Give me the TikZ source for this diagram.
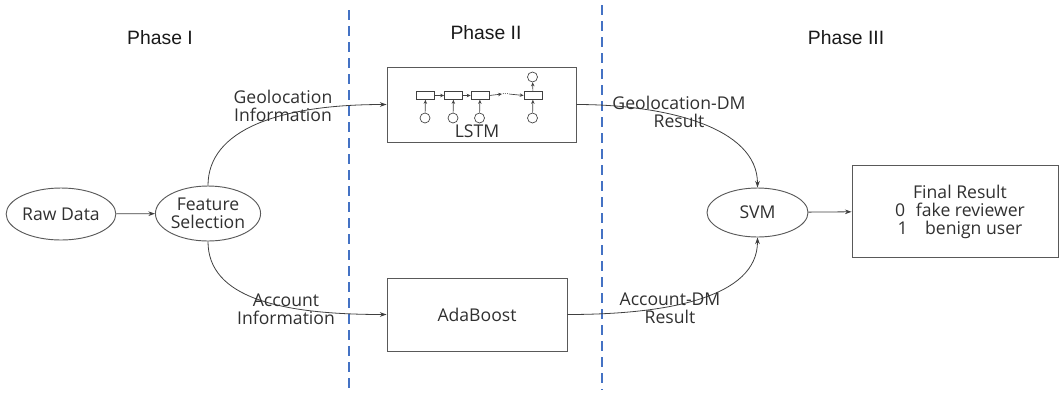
\documentclass[tikz,border=0pt]{standalone}
\usepackage{fontspec}
\setmainfont{Open Sans}
\newfontfamily\phasefont{Liberation Sans}
\usetikzlibrary{arrows.meta,shapes.geometric}
\definecolor{sepblue}{HTML}{4472C4}
\definecolor{ink}{HTML}{303030}
\begin{document}
\begin{tikzpicture}[x=0.75pt,y=-0.75pt,
  every node/.style={font=\fontsize{13.2}{13.5}\selectfont, text=ink},
  ell/.style={ellipse,draw=black!65,line width=0.7pt,inner sep=0pt},
  box/.style={rectangle,draw=black!65,line width=0.7pt,inner sep=0pt},
  conn/.style={draw=black!75,line width=0.6pt,-{Stealth[length=5pt,width=3.5pt]}},
  lbl/.style={align=center,inner sep=0pt},
  phase/.style={inner sep=0pt,font=\phasefont\fontsize{14.5}{16}\selectfont,text=black!90},
  sepline/.style={draw=sepblue,dash pattern=on 7.5pt off 4.5pt,line width=1.8pt},
  cell/.style={rectangle,draw=black!75,minimum width=13.5pt,minimum height=6pt,inner sep=0pt,line width=0.5pt},
  unit/.style={circle,draw=black!75,minimum size=7.5pt,inner sep=0pt,line width=0.5pt},
  smallarr/.style={draw=black!75,line width=0.5pt,-{Stealth[length=3pt,width=2.6pt]}}
]
\useasboundingbox (0,0) rectangle (1062,394);

% separators
\coordinate (s1top) at (349,10);
\coordinate (s1bot) at (349,394);
\coordinate (s2top) at (602,5);
\coordinate (s2bot) at (602,390);
\draw[sepline] (s1top) -- (s1bot);
\draw[sepline] (s2top) -- (s2bot);

% phase titles
\node[phase] (p1) at (160,38) {Phase I};
\node[phase] (p2) at (486,33) {Phase II};
\node[phase] (p3) at (846,38) {Phase III};

% main nodes
\node[ell,minimum width=81pt,minimum height=39pt] (raw) at (61,214) {Raw Data};
\node[ell,minimum width=76.5pt,minimum height=41.25pt,align=center] (fs) at (208,213.5) {Feature\\Selection};
\node[box,minimum width=141.75pt,minimum height=56.25pt] (lstm) at (481.5,104.5) {};
\node[inner sep=0pt] (lstmlbl) at (477,131.5) {LSTM};
\node[box,minimum width=135pt,minimum height=54.75pt] (ada) at (477,314.5) {AdaBoost};
\node[ell,minimum width=75.75pt,minimum height=36.75pt] (svm) at (757.5,212.5) {SVM};
\node[box,minimum width=154.5pt,minimum height=69pt] (final) at (955,211) {};
\node[lbl] (finaltxt) at (960,212) {Final Result\\0\hspace{8pt}fake reviewer\\1\hspace{13pt}benign user};

% LSTM inner diagram
\node[cell] (c1) at (425.5,95.5) {};
\node[cell] (c2) at (453.5,95.5) {};
\node[cell] (c3) at (480,95.5) {};
\node[cell] (c4) at (533,95.5) {};
\node[inner sep=0pt,font=\fontsize{6}{6}\selectfont] (dots) at (505.5,94) {...};
\node[unit] (u1) at (425,118) {};
\node[unit] (u2) at (453,118) {};
\node[unit] (u3) at (479.5,118) {};
\node[unit] (u4) at (532.5,118) {};
\node[unit] (o4) at (532.5,77) {};
\draw[smallarr] (c1) -- (c2);
\draw[smallarr] (c2) -- (c3);
\draw[smallarr] (c3.east) -- (dots.west);
\draw[smallarr] (dots.east) -- (c4.west);
\draw[smallarr] (u1) -- (c1);
\draw[smallarr] (u2) -- (c2);
\draw[smallarr] (u3) -- (c3);
\draw[smallarr] (u4) -- (c4);
\draw[smallarr] (c4) -- (o4);

% connectors
\draw[conn] (raw) -- (fs);
\draw[conn] (fs.north) .. controls +(0,-56) and +(-107,0) .. (lstm.west);
\draw[conn] (fs.south) .. controls +(0,56) and +(-107,0) .. (ada.west);
\draw[conn] (lstm.east) .. controls +(90,0) and +(0,-60) .. (svm.north);
\draw[conn] (ada.east) .. controls +(100,0) and +(0,60) .. (svm.south);
\draw[conn] (svm) -- (final);

% connector labels
\node[lbl] (lgeo) at (283,105.5) {Geolocation\\Information};
\node[lbl] (lacc) at (286,309) {Account\\Information};
\node[lbl] (lgdm) at (679,112) {Geolocation-DM\\Result};
\node[lbl] (ladm) at (670,308) {Account-DM\\Result};
\end{tikzpicture}
\end{document}
